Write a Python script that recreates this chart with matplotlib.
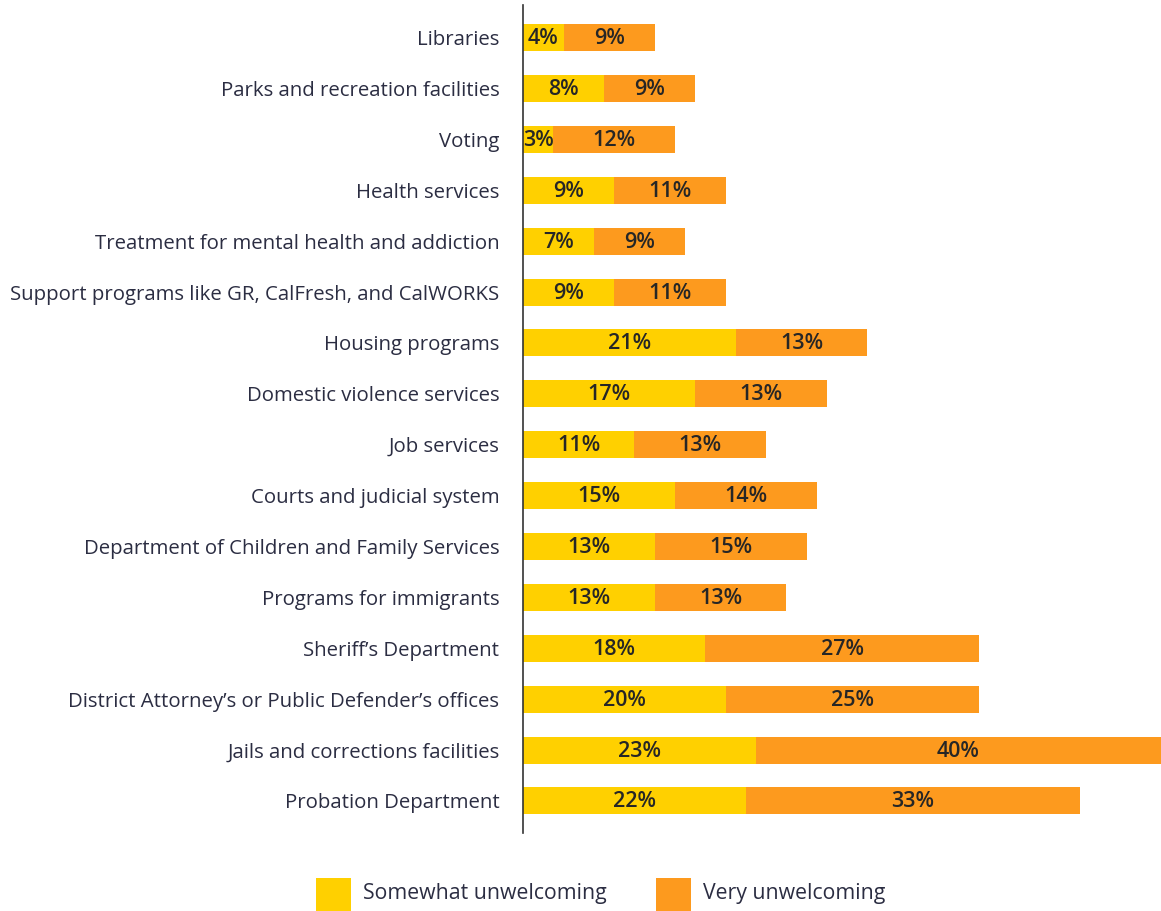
import matplotlib
matplotlib.use("Agg")
import matplotlib.pyplot as plt
from matplotlib.patches import Rectangle

plt.rcParams['font.family'] = ['Open Sans', 'DejaVu Sans']

categories = [
    "Libraries",
    "Parks and recreation facilities",
    "Voting",
    "Health services",
    "Treatment for mental health and addiction",
    "Support programs like GR, CalFresh, and CalWORKS",
    "Housing programs",
    "Domestic violence services",
    "Job services",
    "Courts and judicial system",
    "Department of Children and Family Services",
    "Programs for immigrants",
    "Sheriff\u2019s Department",
    "District Attorney\u2019s or Public Defender\u2019s offices",
    "Jails and corrections facilities",
    "Probation Department",
]
somewhat = [4, 8, 3, 9, 7, 9, 21, 17, 11, 15, 13, 13, 18, 20, 23, 22]
very = [9, 9, 12, 11, 9, 11, 13, 13, 13, 14, 15, 13, 27, 25, 40, 33]
series_names = ["Somewhat unwelcoming", "Very unwelcoming"]

YELLOW = "#FFD000"
ORANGE = "#FD9A1E"
LABEL_COLOR = "#2B2D42"
VALUE_COLOR = "#262626"

W, H = 1161, 911
fig = plt.figure(figsize=(W / 100, H / 100), dpi=100)
ax = fig.add_axes([523 / W, (H - 833) / H, 1 - 523 / W, (833 - 5) / H])

y = list(range(len(categories)))
bh = 0.53
ax.barh(y, somewhat, height=bh, color=YELLOW, linewidth=0)
ax.barh(y, very, left=somewhat, height=bh, color=ORANGE, linewidth=0)

for i, (s, v) in enumerate(zip(somewhat, very)):
    ax.text(s / 2, i + 0.02, f"{s}%", ha="center", va="center", fontsize=15.5,
            fontweight="semibold", color=VALUE_COLOR)
    ax.text(s + v / 2, i + 0.02, f"{v}%", ha="center", va="center", fontsize=15.5,
            fontweight="semibold", color=VALUE_COLOR)

ax.set_xlim(0, 63)
ax.set_ylim(15.63, -0.64)
ax.set_yticks(y)
ax.set_yticklabels(categories, fontsize=14.7, color=LABEL_COLOR)
ax.tick_params(axis="y", length=0, pad=17)
ax.set_xticks([])
for sp in ["top", "right", "bottom"]:
    ax.spines[sp].set_visible(False)
ax.spines["left"].set_color("#333333")
ax.spines["left"].set_linewidth(1.2)

# legend
leg_y0 = (H - 911) / H
sq_h = 33 / H
fig.add_artist(Rectangle((316 / W, leg_y0), 35 / W, sq_h, transform=fig.transFigure,
                         facecolor=YELLOW, edgecolor="none"))
fig.text(363 / W, (H - 893) / H, series_names[0], ha="left", va="center",
         fontsize=15.3, color=LABEL_COLOR)
fig.add_artist(Rectangle((656 / W, leg_y0), 35 / W, sq_h, transform=fig.transFigure,
                         facecolor=ORANGE, edgecolor="none"))
fig.text(703 / W, (H - 893) / H, series_names[1], ha="left", va="center",
         fontsize=15.3, color=LABEL_COLOR)

fig.savefig("out.png", dpi=100, facecolor="white")
